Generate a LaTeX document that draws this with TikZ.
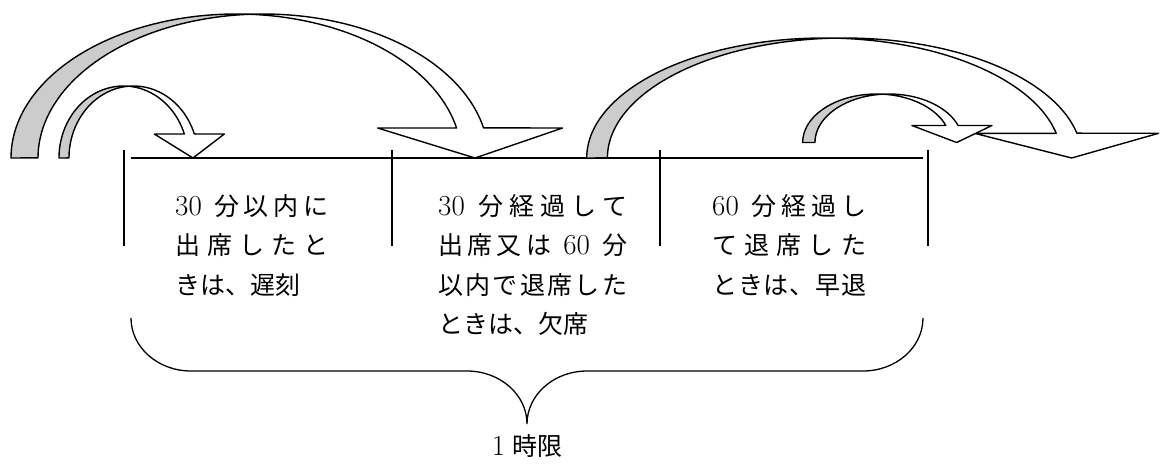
\documentclass[tikz,border=0pt]{standalone}
\usepackage{fontspec}
\newfontfamily\jp{Noto Sans CJK JP}
\newcommand{\J}[1]{{\jp #1}}
\newcommand{\D}[1]{{\fontsize{29}{30}\selectfont #1}}
\definecolor{arrowgray}{RGB}{204,204,204}
\newcommand{\gp}{\hskip 0pt plus 1fil\relax}
\newcommand{\dsp}{\hskip 8pt plus 1fil\relax}
% curved down arrow: #1 l, #2 b, #3 h, #4 wR, #5 th, #6 ah, #7 aw
\newcommand{\cdarrow}[7]{%
 \pgfmathsetmacro{\cxa}{#1+#4}%
 \pgfmathsetmacro{\cxb}{#1+#4+#5}%
 \pgfmathsetmacro{\phie}{360-asin(#6/#3)}%
 \pgfmathsetmacro{\alp}{acos(#5/(2*#4))}%
 \pgfmathsetmacro{\xv}{\cxa+#4*cos(\phie)}%
 \pgfmathsetmacro{\xvii}{\xv+#5}%
 \pgfmathsetmacro{\yi}{#2-#6}%
 \pgfmathsetmacro{\dhh}{(#7-#5)/2}%
 \pgfmathsetmacro{\xiv}{\xv-\dhh}%
 \pgfmathsetmacro{\xviii}{\xvii+\dhh}%
 \pgfmathsetmacro{\xvi}{#1+2*#4+#5/2}%
 \pgfmathsetmacro{\topy}{#2-#3}%
 \pgfmathsetmacro{\ai}{360-\alp}%
 \pgfmathsetmacro{\aii}{180+\alp}%
 \fill[white] (\xvi,#2) -- (\xiv,\yi) -- (\xv,\yi)
   -- plot[domain=0:1,samples=60,variable=\t] ({\cxa+#4*cos(\phie+(270-\phie)*\t)},{#2+#3*sin(\phie+(270-\phie)*\t)})
   -- (\cxb,\topy)
   -- plot[domain=0:1,samples=60,variable=\t] ({\cxb+#4*cos(270+(\phie-270)*\t)},{#2+#3*sin(270+(\phie-270)*\t)})
   -- (\xviii,\yi) -- cycle;
 \fill[arrowgray] plot[domain=0:1,samples=60,variable=\t] ({\cxa+#4*cos(180+(\ai-180)*\t)},{#2+#3*sin(180+(\ai-180)*\t)})
   -- plot[domain=0:1,samples=60,variable=\t] ({\cxb+#4*cos(\aii+(180-\aii)*\t)},{#2+#3*sin(\aii+(180-\aii)*\t)}) -- cycle;
 \draw[arrowline] plot[domain=0:1,samples=60,variable=\t] ({\cxb+#4*cos(\aii+(180-\aii)*\t)},{#2+#3*sin(\aii+(180-\aii)*\t)})
   -- (#1,#2)
   -- plot[domain=0:1,samples=60,variable=\t] ({\cxa+#4*cos(180+90*\t)},{#2+#3*sin(180+90*\t)})
   -- (\cxb,\topy)
   -- plot[domain=0:1,samples=60,variable=\t] ({\cxb+#4*cos(270+(\phie-270)*\t)},{#2+#3*sin(270+(\phie-270)*\t)})
   -- (\xviii,\yi) -- (\xvi,#2) -- (\xiv,\yi) -- (\xv,\yi)
   -- plot[domain=0:1,samples=60,variable=\t] ({\cxa+#4*cos(\phie+(270-\phie)*\t)},{#2+#3*sin(\phie+(270-\phie)*\t)});
}
\begin{document}
\begin{tikzpicture}[x=1pt,y=-1pt,
  arrowline/.style={draw=black,line width=1.4pt,line join=round},
  rule/.style={draw=black,line width=1.4pt},
  txt/.style={inner sep=0pt,anchor=base west,font=\fontsize{25}{30}\selectfont}]
\useasboundingbox (0,0) rectangle (1163,464);
% time line and ticks
\draw[rule] (131,158) -- (923,158);
\foreach \x in {124,392,660,928} \draw[rule] (\x,150) -- (\x,246);
% curved arrows
\cdarrow{11}{158}{144}{225.25}{27}{30}{185}
\cdarrow{59}{158}{72}{64.5}{10}{24}{70}
\cdarrow{586.7}{158}{120}{237.3}{20.7}{24.7}{184}
\cdarrow{802.7}{142.5}{48.5}{73.9}{12.3}{17}{80}
% texts
\node[txt] (a1) at (175,215) {\hbox to 153pt{\D{30}\dsp\J{分}\gp\J{以}\gp\J{内}\gp\J{に}}};
\node[txt] (a2) at (175,254.5) {\hbox to 153pt{\J{出}\gp\J{席}\gp\J{し}\gp\J{た}\gp\J{と}}};
\node[txt] (a3) at (175,294) {\J{きは、遅刻}};
\node[txt] (b1) at (438,215) {\hbox to 189pt{\D{30}\dsp\J{分}\gp\J{経}\gp\J{過}\gp\J{し}\gp\J{て}}};
\node[txt] (b2) at (438,254.5) {\hbox to 189pt{\J{出}\gp\J{席}\gp\J{又}\gp\J{は}\dsp\D{60}\dsp\J{分}}};
\node[txt] (b3) at (438,294) {\hbox to 189pt{\J{以}\gp\J{内}\gp\J{で}\gp\J{退}\gp\J{席}\gp\J{し}\gp\J{た}}};
\node[txt] (b4) at (438,333.5) {\J{ときは、欠席}};
\node[txt] (c1) at (712,215) {\hbox to 154pt{\D{60}\dsp\J{分}\gp\J{経}\gp\J{過}\gp\J{し}}};
\node[txt] (c2) at (712,254.5) {\hbox to 154pt{\J{て}\gp\J{退}\gp\J{席}\gp\J{し}\gp\J{た}}};
\node[txt] (c3) at (712,294) {\hbox to 154pt{\J{と}\gp\J{き}\gp\J{は}\gp\J{、}\gp\J{早}\gp\J{退}}};
% brace
\draw[rule,line width=1.3pt] (131,318)
  .. controls (131,347.3) and (157.9,371) .. (191,371)
  -- (467,371)
  .. controls (500.1,371) and (527,394.7) .. (527,424)
  .. controls (527,394.7) and (553.9,371) .. (587,371)
  -- (863,371)
  .. controls (896.1,371) and (923,347.3) .. (923,318);
\node[txt,anchor=base] (lim) at (527,455) {\D{1}\hskip 7pt\J{時限}};
\end{tikzpicture}
\end{document}
